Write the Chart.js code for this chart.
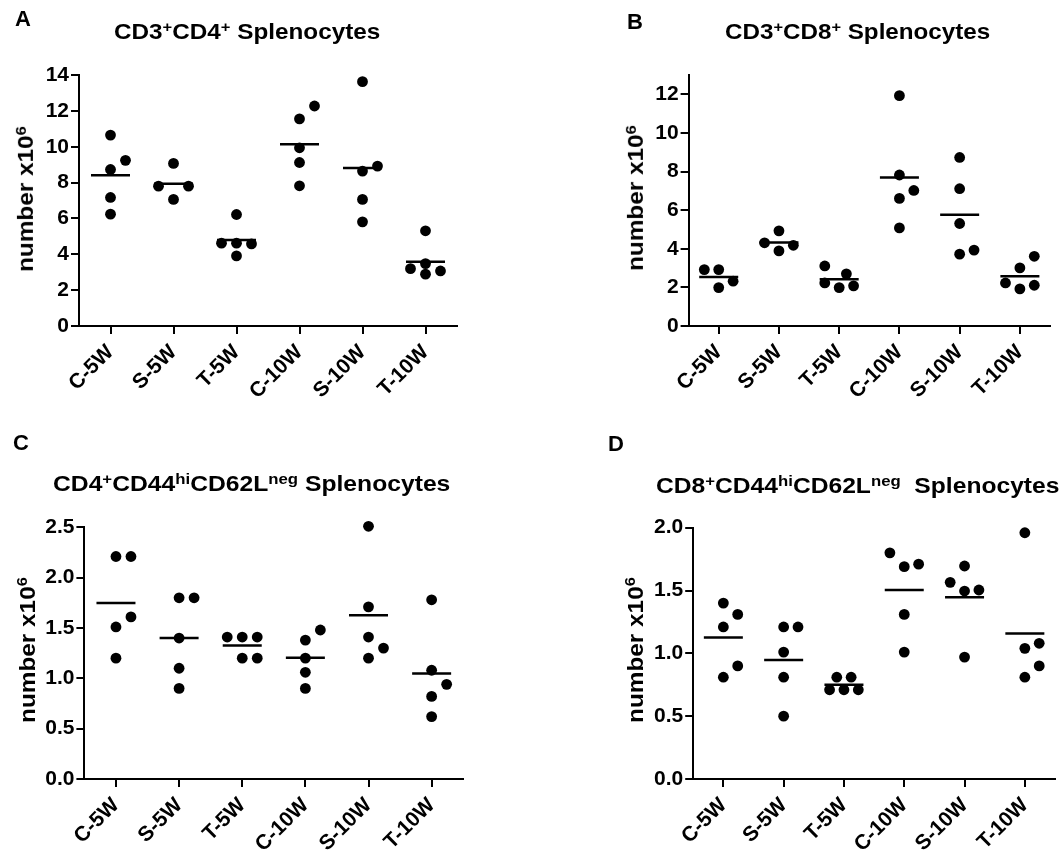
<!DOCTYPE html>
<html>
<head>
<meta charset="utf-8">
<script src="https://cdn.jsdelivr.net/npm/chart.js@4.4.0/dist/chart.umd.min.js"></script>
<style>
  html, body { margin: 0; padding: 0; background: #fff; overflow: hidden; }
  body { width: 1064px; height: 860px; position: relative; color: #000;
         font-family: "Liberation Sans", Arial, sans-serif; font-weight: bold; }
  canvas { position: absolute; }
  .txt { position: absolute; line-height: 1; white-space: pre; }
  .txt sup { font-size: 0.68em; vertical-align: 0.5em; line-height: 0; }
  .ylab { transform-origin: 50% 50%; }
</style>
</head>
<body>
<script>
const groups = ["C-5W", "S-5W", "T-5W", "C-10W", "S-10W", "T-10W"];

// number x10^6 per animal, one inner list per group
const cd3cd4 = [
  [10.65, 9.24, 8.73, 7.17, 6.24],
  [9.07, 7.8, 7.8, 7.06],
  [6.22, 4.62, 4.62, 4.58, 3.91],
  [12.27, 11.55, 9.94, 9.12, 7.82],
  [13.63, 8.92, 8.64, 7.06, 5.81],
  [5.31, 3.48, 3.2, 3.07, 2.89]
];
const cd3cd8 = [
  [2.92, 2.92, 2.32, 1.99],
  [4.93, 4.31, 4.18, 3.89],
  [3.11, 2.7, 2.23, 2.08, 1.99],
  [11.93, 7.82, 7.02, 6.61, 5.08],
  [8.73, 7.11, 5.31, 3.93, 3.72],
  [3.61, 3.01, 2.23, 2.11, 1.92]
];
const cd4Effector = [
  [2.21, 2.21, 1.61, 1.51, 1.2],
  [1.8, 1.8, 1.4, 1.1, 0.9],
  [1.41, 1.41, 1.41, 1.2, 1.2],
  [1.48, 1.38, 1.2, 1.06, 0.9],
  [2.51, 1.71, 1.41, 1.3, 1.2],
  [1.78, 1.08, 0.94, 0.82, 0.62]
];
const cd8Effector = [
  [1.4, 1.31, 1.21, 0.9, 0.81],
  [1.21, 1.21, 1.01, 0.81, 0.5],
  [0.81, 0.81, 0.71, 0.71, 0.71],
  [1.8, 1.71, 1.69, 1.31, 1.01],
  [1.695, 1.565, 1.504, 1.496, 0.97],
  [1.96, 1.08, 1.04, 0.9, 0.81]
];

const yMaxes = [14, 13, 2.5, 2];
const ySteps = [2, 2, 0.5, 0.5];
const letters = ["A", "B", "C", "D"];
const titles = [
  "CD3<sup>+</sup>CD4<sup>+</sup> Splenocytes",
  "CD3<sup>+</sup>CD8<sup>+</sup> Splenocytes",
  "CD4<sup>+</sup>CD44<sup>hi</sup>CD62L<sup>neg</sup> Splenocytes",
  "CD8<sup>+</sup>CD44<sup>hi</sup>CD62L<sup>neg</sup>  Splenocytes"
];
const yTitle = "number x10<sup>6</sup>";

// layout (page pixels)
const FONT = "'Liberation Sans', Arial, sans-serif";
const layout = [
  { canvas: [0, 0, 532, 420], area: [79, 75, 457, 326],
    letter: [15, 8, 22], title: [114, 21, 266], ylab: [26.2, 199] },
  { canvas: [532, 0, 540, 420], area: [688.6, 75, 1065, 326],
    letter: [627, 11, 22], title: [725, 21, 265], ylab: [636.2, 198] },
  { canvas: [0, 420, 532, 440], area: [84.4, 527.3, 463.2, 779],
    letter: [13, 432, 22], title: [53, 473, 397], ylab: [27.8, 650] },
  { canvas: [532, 420, 545, 440], area: [693.2, 527.7, 1071, 779],
    letter: [608, 433, 22], title: [656, 474.5, 403], ylab: [636.2, 650] }
];
const STEP_PX = 15;     // sideways shift for crowded dots
const DOT_GAP_PX = 14;  // min centre distance before dots get shifted

// crowded dots get pushed sideways, like a column scatter
function spreadOffsets(vals, pxPerUnit) {
  const order = vals.map((v, i) => i).sort((a, b) => vals[a] - vals[b]);
  const placed = [];
  const offs = [];
  const cands = [0, 1, -1, 0.5, -0.5];
  order.forEach(i => {
    const y = vals[i] * pxPerUnit;
    const dist = c => Math.min(Infinity, ...placed.map(p => Math.hypot((c - p.c) * STEP_PX, y - p.y)));
    let best = cands.find(c => dist(c) >= DOT_GAP_PX);
    if (best === undefined) best = cands.reduce((a, c) => dist(c) > dist(a) ? c : a);
    offs[i] = best;
    placed.push({ c: best, y });
  });
  return offs;
}

function addText(html, x, y, size, cls) {
  const d = document.createElement("div");
  d.className = "txt " + (cls || "");
  d.innerHTML = html;
  d.style.left = x + "px";
  d.style.top = y + "px";
  d.style.fontSize = size + "px";
  document.body.appendChild(d);
  return d;
}

const allValues = [cd3cd4, cd3cd8, cd4Effector, cd8Effector];

allValues.forEach((values, pi) => {
  const L = layout[pi];
  const [cx, cy, cw, ch] = L.canvas;
  const [al, at, ar, ab] = L.area;
  const canvas = document.createElement("canvas");
  canvas.width = cw; canvas.height = ch;
  canvas.style.left = cx + "px"; canvas.style.top = cy + "px";
  document.body.appendChild(canvas);

  const catPx = (ar - al) / groups.length;
  const pxPerUnit = (ab - at) / yMaxes[pi];
  const dots = [], means = [];
  values.forEach((vals, gi) => {
    const offs = spreadOffsets(vals, pxPerUnit);
    vals.forEach((v, k) => dots.push({ x: gi + offs[k] * STEP_PX / catPx, y: v }));
    means.push({ x: gi, y: vals.reduce((s, v) => s + v, 0) / vals.length });
  });

  const tickFont = { family: FONT, size: 21, weight: "bold" };
  const axisGrid = { drawOnChartArea: false, drawTicks: true, tickLength: 8, color: "#000", lineWidth: 2 };
  const decimals = ySteps[pi] < 1 ? 1 : 0;

  new Chart(canvas, {
    type: "scatter",
    data: {
      datasets: [
        { data: dots, clip: false, pointRadius: 5.4, pointBackgroundColor: "#000", pointBorderWidth: 0 },
        { data: means, clip: false, pointStyle: "line", pointRadius: 19.5, pointBorderColor: "#000", pointBorderWidth: 2.5 }
      ]
    },
    options: {
      responsive: false,
      animation: false,
      devicePixelRatio: 1,
      events: [],
      layout: { padding: { left: 0, top: at - cy, right: cx + cw - ar, bottom: 0 } },
      plugins: { legend: { display: false }, tooltip: { enabled: false } },
      scales: {
        x: {
          type: "linear", min: -0.5, max: 5.5,
          afterBuildTicks: s => { s.ticks = groups.map((g, i) => ({ value: i })); },
          afterFit: s => { s.height = cy + ch - ab; },
          ticks: { callback: v => groups[v], autoSkip: false, minRotation: 45, maxRotation: 45,
                   font: tickFont, color: "#000", padding: 6 },
          grid: axisGrid,
          border: { color: "#000", width: 2 }
        },
        y: {
          min: 0, max: yMaxes[pi],
          afterFit: s => { s.width = al - cx; },
          ticks: { stepSize: ySteps[pi], includeBounds: false, callback: v => v.toFixed(decimals),
                   font: tickFont, color: "#000", padding: 2 },
          grid: axisGrid,
          border: { color: "#000", width: 2 }
        }
      }
    }
  });

  addText(letters[pi], L.letter[0], L.letter[1], L.letter[2]);
  const t = addText(titles[pi], L.title[0], L.title[1], 22);
  t.style.transformOrigin = "0 0";
  t.style.transform = "scaleX(" + (L.title[2] / t.offsetWidth) + ")";
  const y = addText(yTitle, 0, 0, 22, "ylab");
  const k = 146 / y.offsetWidth;
  y.style.left = (L.ylab[0] - y.offsetWidth / 2) + "px";
  y.style.top = (L.ylab[1] - y.offsetHeight / 2) + "px";
  y.style.transform = "rotate(-90deg) scaleX(" + k + ")";
});
</script>
</body>
</html>
